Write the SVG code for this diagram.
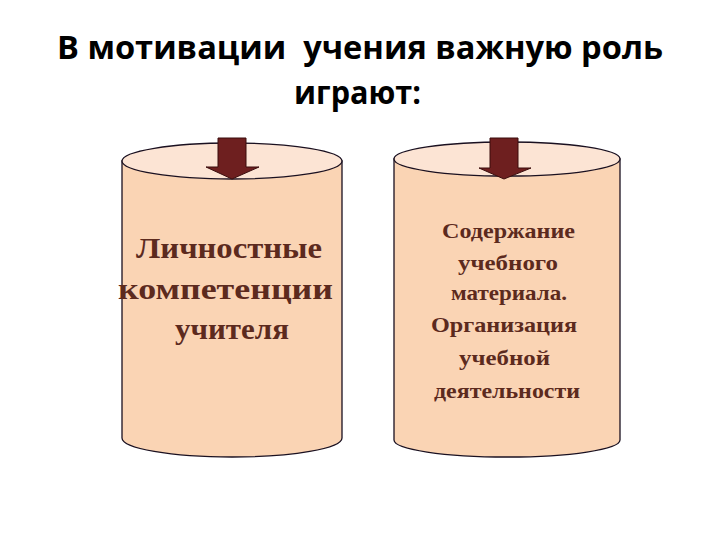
<svg xmlns="http://www.w3.org/2000/svg" width="720" height="540" viewBox="0 0 720 540">
<defs>
<style>
.title{font-family:"Open Sans","Liberation Sans",sans-serif;font-weight:bold;font-size:33px;fill:#000}
.body{fill:#FAD4B4;stroke:#1a1020;stroke-width:1.3}
.top{fill:#FCE4D4;stroke:#1a1020;stroke-width:1.3}
.arrow{fill:#6E1F1F;stroke:#3a0d0d;stroke-width:1}
.t1{font-family:"Liberation Serif","DejaVu Serif",serif;font-weight:bold;font-size:29px;fill:#5C2A1E}
.t2{font-family:"Liberation Serif","DejaVu Serif",serif;font-weight:bold;font-size:22px;fill:#5C2A1E}
</style>
</defs>
<rect width="720" height="540" fill="#fff"/>
<g id="title">
<text class="title" x="57" y="59" textLength="606" lengthAdjust="spacingAndGlyphs">В мотивации&#160; учения важную роль</text>
<text class="title" x="294" y="104" textLength="127" lengthAdjust="spacingAndGlyphs">играют:</text>
</g>
<g id="cyl1">
<path class="body" d="M122 161 L122 438 A110 19 0 0 0 342 438 L342 161 Z"/>
<ellipse class="top" cx="232" cy="161" rx="110" ry="18"/>
<text class="t1" x="136" y="258" textLength="186" lengthAdjust="spacingAndGlyphs">Личностные</text>
<text class="t1" x="118" y="299" textLength="215" lengthAdjust="spacingAndGlyphs">компетенции</text>
<text class="t1" x="175" y="339" textLength="114" lengthAdjust="spacingAndGlyphs">учителя</text>
</g>
<g id="cyl2">
<path class="body" d="M394 159 L394 440 A113 17 0 0 0 620 440 L620 159 Z"/>
<ellipse class="top" cx="507" cy="159" rx="113" ry="17"/>
<text class="t2" x="442" y="238" textLength="133" lengthAdjust="spacingAndGlyphs">Содержание</text>
<text class="t2" x="458" y="270" textLength="100" lengthAdjust="spacingAndGlyphs">учебного</text>
<text class="t2" x="451" y="300" textLength="116" lengthAdjust="spacingAndGlyphs">материала.</text>
<text class="t2" x="431" y="332" textLength="146" lengthAdjust="spacingAndGlyphs">Организация</text>
<text class="t2" x="459" y="365" textLength="91" lengthAdjust="spacingAndGlyphs">учебной</text>
<text class="t2" x="434" y="398" textLength="146" lengthAdjust="spacingAndGlyphs">деятельности</text>
</g>
<g id="connectors">
<path class="arrow" d="M218 138 L246 138 L246 167 L259 167 L232 179 L206 167 L218 167 Z"/>
<path class="arrow" d="M490 138 L518 138 L518 168 L531 168 L504 179 L479 168 L490 168 Z"/>
</g>
</svg>
